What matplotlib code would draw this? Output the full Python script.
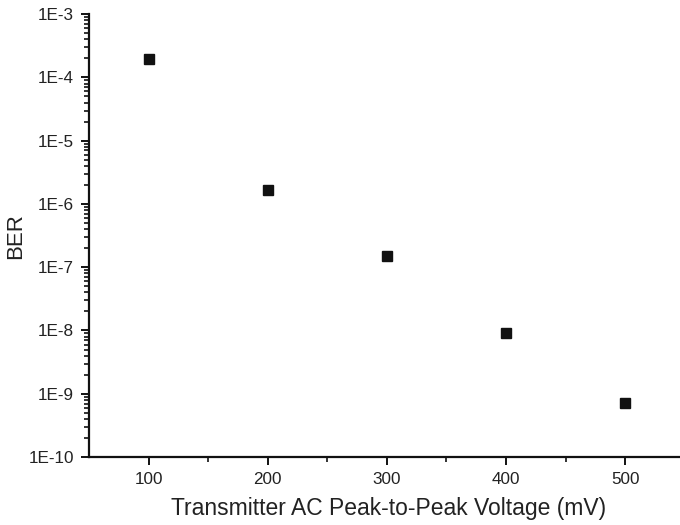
import matplotlib
matplotlib.use("Agg")
import matplotlib.pyplot as plt
from matplotlib.ticker import FixedLocator, LogLocator, NullFormatter, FuncFormatter
import numpy as np

voltage = [100, 200, 300, 400, 500]
ber = [1.95e-4, 1.66e-6, 1.5e-7, 9.1e-9, 7.2e-10]
xticks = [100, 200, 300, 400, 500]

plt.rcParams['font.family'] = ['Liberation Sans', 'DejaVu Sans']
fig = plt.figure(figsize=(6.8, 5.25), dpi=100)
ax = fig.add_axes([0.131, 0.1295, 1.0068 - 0.131, 0.973 - 0.1295])
ax.plot(voltage, ber, linestyle='none', marker='s', markersize=7, color='#111111')
ax.set_yscale('log')
ax.set_ylim(1e-10, 1e-3)
ax.set_xlim(50, 550)
ax.xaxis.set_major_locator(FixedLocator(xticks))
ax.xaxis.set_minor_locator(FixedLocator([150, 250, 350, 450]))
ax.yaxis.set_major_locator(LogLocator(base=10, numticks=20))
ax.yaxis.set_minor_locator(LogLocator(base=10, subs=np.arange(2, 10), numticks=100))
ax.yaxis.set_minor_formatter(NullFormatter())
ax.yaxis.set_major_formatter(FuncFormatter(lambda v, p: "1E%d" % int(round(np.log10(v)))))
for s in ['top', 'right']:
    ax.spines[s].set_visible(False)
for s in ['left', 'bottom']:
    ax.spines[s].set_linewidth(1.6)
    ax.spines[s].set_color('#111111')
ax.tick_params(which='major', direction='out', length=6, width=1.4, labelsize=12.3, colors='#111111', labelcolor='#222222', pad=5)
ax.tick_params(which='minor', direction='out', length=3.5, width=1.2, colors='#111111')
ax.set_ylabel('BER', fontsize=16, color='#222222')
ax.yaxis.set_label_coords(-0.105, 0.5)
ax.set_xlabel('Transmitter AC Peak-to-Peak Voltage (mV)', fontsize=16.5, color='#222222')
ax.xaxis.set_label_coords((389 - 89) / (684.6 - 89), -(509 - 457) / 443, transform=ax.transAxes)
ax.xaxis.label.set_va('center')
fig.savefig('out.png', dpi=100)
